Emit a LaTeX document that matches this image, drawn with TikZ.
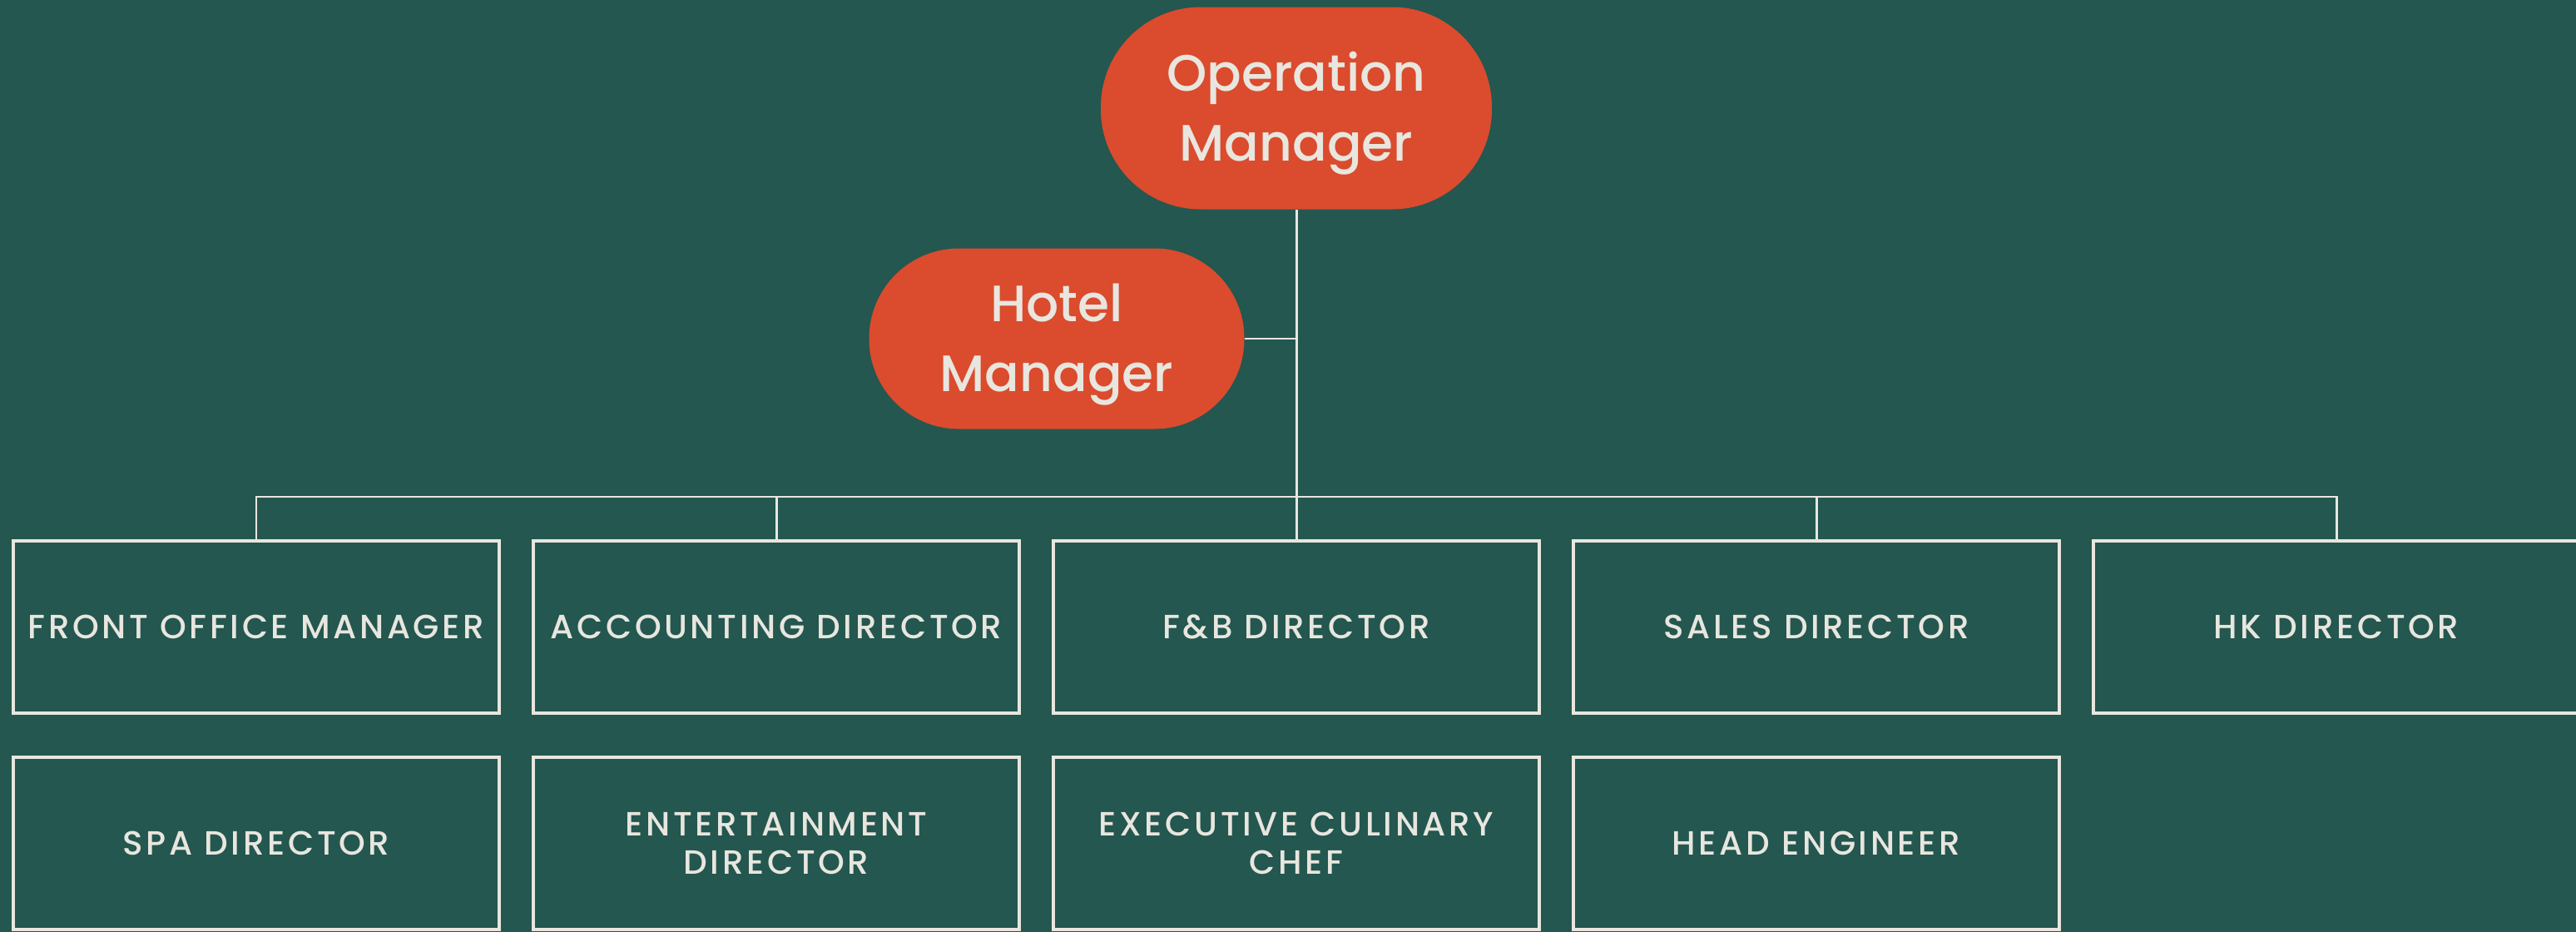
\documentclass[tikz,border=0pt]{standalone}
\usepackage{fontspec}
\setmainfont{Poppins Medium}
\newfontfamily\boxfont[LetterSpace=9]{Poppins Medium}
\usetikzlibrary{positioning}
\definecolor{bggreen}{HTML}{23574F}
\definecolor{mgrorange}{HTML}{DB4B2D}
\definecolor{paper}{HTML}{E8E6DF}
\newcommand{\topstrut}{\rule{0pt}{17pt}}

\begin{document}
\begin{tikzpicture}[
        node distance=0.53cm and 0.41cm,
        manager/.style={rectangle, fill=mgrorange, text=paper, align=center, font=\fontsize{17.5}{24}\selectfont},
        role/.style={rectangle, draw=paper, line width=1.15pt, text=paper, align=center, minimum width=5.84cm, minimum height=2.07cm, inner sep=0pt, outer sep=0pt, font=\boxfont\fontsize{11.5}{13.2}\selectfont},
        link/.style={draw=paper, line width=0.85pt}
    ]
        \fill[bggreen] (0,0) rectangle (30.96,-11.2);
        \useasboundingbox (0,0) rectangle (30.96,-11.2);

        \node[manager, minimum width=4.70cm, minimum height=2.43cm, rounded corners=1.2cm] (opmgr) at (15.58,-1.30) {\topstrut Operation\\Manager};
        \node[manager, minimum width=4.51cm, minimum height=2.17cm, rounded corners=1.08cm] (hotelmgr) at (12.70,-4.07) {\topstrut Hotel\\Manager};

        \node[role] (frontoffice) at (3.08,-7.535) {FRONT OFFICE MANAGER};
        \node[role, right=of frontoffice] (accounting) {ACCOUNTING DIRECTOR};
        \node[role, right=of accounting] (fnb) {F\&B DIRECTOR};
        \node[role, right=of fnb] (sales) {SALES DIRECTOR};
        \node[role, right=of sales] (hk) {HK DIRECTOR};

        \node[role, below=of frontoffice] (spa) {SPA DIRECTOR};
        \node[role, below=of accounting] (entertain) {ENTERTAINMENT\\DIRECTOR};
        \node[role, below=of fnb] (culinary) {EXECUTIVE CULINARY\\CHEF};
        \node[role, below=of sales] (engineer) {HEAD ENGINEER};

        \coordinate (bus) at (opmgr.south |- 0,-5.97);
        \draw[link] (opmgr) -- (bus);
        \draw[link] (hotelmgr) -- (hotelmgr -| opmgr);
        \foreach \n in {frontoffice,accounting,fnb,sales,hk}
            \draw[link] (\n.north) |- (bus);
    \end{tikzpicture}
\end{document}
